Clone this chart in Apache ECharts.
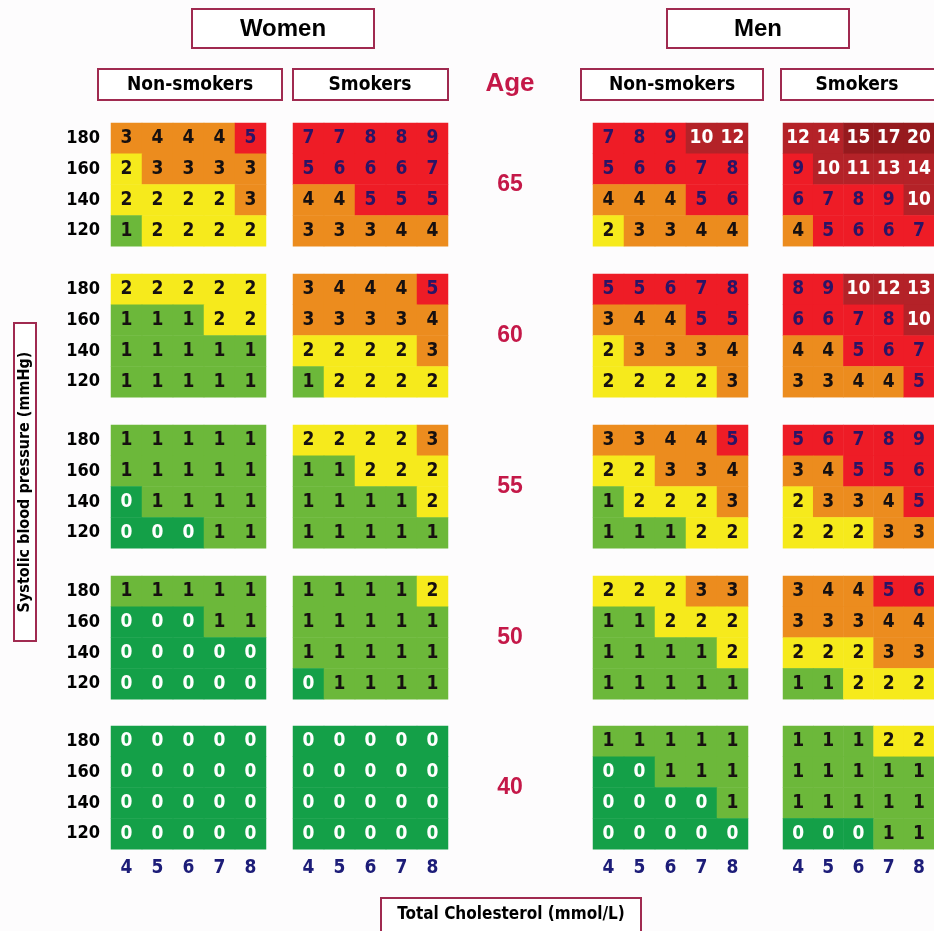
<!DOCTYPE html>
<html>
<head>
<meta charset="utf-8">
<script src="https://cdn.jsdelivr.net/npm/echarts@6/dist/echarts.min.js"></script>
<style>
html,body{margin:0;padding:0;background:#fff;}
#chart{width:934px;height:931px;}
</style>
</head>
<body>
<div id="chart"></div>
<script>
// ---- Data ----
const cholesterol = ['4', '5', '6', '7', '8'];          // mmol/L (columns)
const sbp = ['120', '140', '160', '180'];                // mmHg (rows, bottom to top)
const ages = ['65', '60', '55', '50', '40'];
const groups = ['Women Non-smokers', 'Women Smokers', 'Men Non-smokers', 'Men Smokers'];

// each age block: rows from SBP 180 (top) down to 120 (bottom), columns chol 4..8
const womenNonSmokers = [
  [[3,4,4,4,5],[2,3,3,3,3],[2,2,2,2,3],[1,2,2,2,2]],
  [[2,2,2,2,2],[1,1,1,2,2],[1,1,1,1,1],[1,1,1,1,1]],
  [[1,1,1,1,1],[1,1,1,1,1],[0,1,1,1,1],[0,0,0,1,1]],
  [[1,1,1,1,1],[0,0,0,1,1],[0,0,0,0,0],[0,0,0,0,0]],
  [[0,0,0,0,0],[0,0,0,0,0],[0,0,0,0,0],[0,0,0,0,0]]
];
const womenSmokers = [
  [[7,7,8,8,9],[5,6,6,6,7],[4,4,5,5,5],[3,3,3,4,4]],
  [[3,4,4,4,5],[3,3,3,3,4],[2,2,2,2,3],[1,2,2,2,2]],
  [[2,2,2,2,3],[1,1,2,2,2],[1,1,1,1,2],[1,1,1,1,1]],
  [[1,1,1,1,2],[1,1,1,1,1],[1,1,1,1,1],[0,1,1,1,1]],
  [[0,0,0,0,0],[0,0,0,0,0],[0,0,0,0,0],[0,0,0,0,0]]
];
const menNonSmokers = [
  [[7,8,9,10,12],[5,6,6,7,8],[4,4,4,5,6],[2,3,3,4,4]],
  [[5,5,6,7,8],[3,4,4,5,5],[2,3,3,3,4],[2,2,2,2,3]],
  [[3,3,4,4,5],[2,2,3,3,4],[1,2,2,2,3],[1,1,1,2,2]],
  [[2,2,2,3,3],[1,1,2,2,2],[1,1,1,1,2],[1,1,1,1,1]],
  [[1,1,1,1,1],[0,0,1,1,1],[0,0,0,0,1],[0,0,0,0,0]]
];
const menSmokers = [
  [[12,14,15,17,20],[9,10,11,13,14],[6,7,8,9,10],[4,5,6,6,7]],
  [[8,9,10,12,13],[6,6,7,8,10],[4,4,5,6,7],[3,3,4,4,5]],
  [[5,6,7,8,9],[3,4,5,5,6],[2,3,3,4,5],[2,2,2,3,3]],
  [[3,4,4,5,6],[3,3,3,4,4],[2,2,2,3,3],[1,1,2,2,2]],
  [[1,1,1,2,2],[1,1,1,1,1],[1,1,1,1,1],[0,0,0,1,1]]
];
const tables = [womenNonSmokers, womenSmokers, menNonSmokers, menSmokers];

// ---- Layout ----
const colLeft = [111, 293, 593, 783];
const rowTop = [123, 274, 425, 576, 726];
const cellW = 31, cellH = 30.8;
const NARROW = '"Liberation Sans Narrow","DejaVu Sans Condensed","Arial Narrow",sans-serif';
const BORDER = '#a02a50';
const CRIMSON = '#c41848';

function colorFor(v) {
  if (v <= 0) return '#14a048';
  if (v === 1) return '#6cb83a';
  if (v === 2) return '#f6ea1c';
  if (v <= 4) return '#ec8c1e';
  if (v <= 9) return '#ee1c26';
  if (v <= 14) return '#b42228';
  return '#961a1e';
}
function textFor(v) {
  if (v === 0) return '#ffffff';
  if (v < 5) return '#161010';
  if (v < 10) return '#2a1466';
  return '#ffffff';
}

const grids = [], xAxes = [], yAxes = [], series = [];
let gi = 0;
for (let a = 0; a < ages.length; a++) {
  for (let g = 0; g < 4; g++) {
    grids.push({left: colLeft[g], top: rowTop[a], width: cellW * 5, height: cellH * 4, containLabel: false});
    xAxes.push({
      type: 'category', gridIndex: gi, data: cholesterol,
      axisLine: {show: false}, axisTick: {show: false}, splitLine: {show: false},
      axisLabel: {show: a === ages.length - 1, color: '#1c1c78', fontFamily: NARROW, fontWeight: 'bold', fontSize: 19, margin: 9}
    });
    yAxes.push({
      type: 'category', gridIndex: gi, data: sbp,
      axisLine: {show: false}, axisTick: {show: false}, splitLine: {show: false},
      axisLabel: {show: g === 0, color: '#000', fontFamily: NARROW, fontWeight: 'bold', fontSize: 18, margin: 11}
    });
    const block = tables[g][a];
    const data = [];
    for (let r = 0; r < 4; r++) {
      for (let c = 0; c < 5; c++) {
        const v = block[r][c];
        data.push({
          value: [c, 3 - r, v],
          itemStyle: {color: colorFor(v)},
          label: {color: textFor(v)}
        });
      }
    }
    series.push({
      type: 'heatmap', name: groups[g] + ' ' + ages[a],
      xAxisIndex: gi, yAxisIndex: gi, data: data,
      itemStyle: {borderWidth: 0},
      emphasis: {disabled: true},
      labelLayout: {hideOverlap: false},
      label: {
        show: true,
        formatter: function (p) { return String(p.value[2]); },
        fontFamily: NARROW, fontWeight: 'bold', fontSize: 19
      }
    });
    gi++;
  }
}

function box(x, y, w, h) {
  return {type: 'rect', shape: {x: x, y: y, width: w, height: h}, style: {fill: '#fff', stroke: BORDER, lineWidth: 2}, z: 10};
}
function txt(s, x, y, font, color, rot) {
  return {type: 'text', x: x, y: y, rotation: rot || 0, z: 11,
    style: {text: s, x: 0, y: 0, align: 'center', verticalAlign: 'middle', font: font, fill: color || '#000'}};
}
const graphics = [
  box(192, 9, 182, 39), txt('Women', 283, 29, 'bold 24px "Liberation Sans", Arial, sans-serif'),
  box(667, 9, 182, 39), txt('Men', 758, 29, 'bold 24px "Liberation Sans", Arial, sans-serif'),
  box(98, 69, 184, 31), txt('Non-smokers', 190, 85, 'bold 19px ' + NARROW),
  box(293, 69, 155, 31), txt('Smokers', 370, 85, 'bold 19px ' + NARROW),
  box(581, 69, 182, 31), txt('Non-smokers', 672, 85, 'bold 19px ' + NARROW),
  box(781, 69, 170, 31), txt('Smokers', 857, 85, 'bold 19px ' + NARROW),
  txt('Age', 510, 84, 'bold 26px "Liberation Sans", Arial, sans-serif', CRIMSON),
  box(14, 323, 22, 318), txt('Systolic blood pressure (mmHg)', 25, 482, 'bold 16px ' + NARROW, '#000', Math.PI / 2),
  box(381, 898, 260, 40), txt('Total Cholesterol (mmol/L)', 511, 915, 'bold 17px ' + NARROW)
];
for (let a = 0; a < ages.length; a++) {
  graphics.push(txt(ages[a], 510, rowTop[a] + 62, 'bold 23px "Liberation Sans", Arial, sans-serif', CRIMSON));
}

const chart = echarts.init(document.getElementById('chart'), null, {renderer: 'canvas'});
chart.setOption({
  backgroundColor: '#fdfcfd',
  animation: false,
  grid: grids,
  xAxis: xAxes,
  yAxis: yAxes,
  graphic: graphics,
  series: series
});
</script>
</body>
</html>
